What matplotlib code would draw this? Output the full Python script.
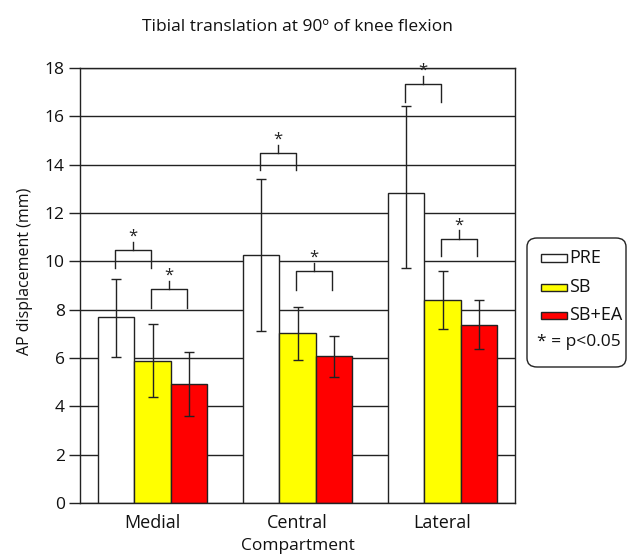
import matplotlib
matplotlib.use("Agg")
import matplotlib.pyplot as plt
from matplotlib.patches import Rectangle, FancyBboxPatch
import numpy as np

plt.rcParams['font.family'] = ['Open Sans', 'DejaVu Sans']

categories = ["Medial", "Central", "Lateral"]
series = ["PRE", "SB", "SB+EA"]
colors = ["white", "#ffff00", "#ff0000"]
pre = [7.7, 10.25, 12.83]
sb = [5.88, 7.03, 8.38]
sbea = [4.91, 6.08, 7.35]
pre_lo = [1.65, 3.15, 3.1]
pre_hi = [1.57, 3.15, 3.6]
sb_lo = [1.48, 1.1, 1.16]
sb_hi = [1.51, 1.1, 1.24]
sbea_lo = [1.32, 0.86, 0.97]
sbea_hi = [1.35, 0.83, 1.04]
# significance brackets: (category, left series idx, right series idx, leg bottom, top)
brackets = [(0, 0, 1, 9.74, 10.46), (0, 1, 2, 8.08, 8.85),
            (1, 0, 1, 13.79, 14.49), (1, 1, 2, 8.83, 9.59),
            (2, 0, 1, 16.6, 17.34), (2, 1, 2, 10.21, 10.94)]
sig_note = "* = p<0.05"

W, H = 629, 556
fig = plt.figure(figsize=(W / 100, H / 100), dpi=100)
ax = fig.add_axes([80 / W, 1 - 503 / H, 435 / W, 435 / H])
ink = "#222222"
txt = "#111111"

x = np.arange(len(categories))
w = 0.25
vals = [pre, sb, sbea]
los = [pre_lo, sb_lo, sbea_lo]
his = [pre_hi, sb_hi, sbea_hi]
for i, (v, c, lab) in enumerate(zip(vals, colors, series)):
    xs = x + (i - 1) * w
    ax.bar(xs, v, width=w, color=c, edgecolor=ink, linewidth=1.0,
           label=lab, zorder=2)
    ax.errorbar(xs, v, yerr=[los[i], his[i]], fmt="none", ecolor=ink,
                elinewidth=1.0, capsize=3.5, capthick=1.0, zorder=3)

for cat, a, b, lo, hi in brackets:
    xa = cat + (a - 1) * w - 0.01
    xb = cat + (b - 1) * w - 0.01
    xm = (xa + xb) / 2
    ax.plot([xa, xa, xb, xb], [lo, hi, hi, lo], color=ink, lw=1.0,
            zorder=4, clip_on=False)
    ax.plot([xm, xm], [hi, hi + 0.34], color=ink, lw=1.0, zorder=4,
            clip_on=False)
    ax.text(xm, hi + 0.22, "*", ha="center", va="bottom", fontsize=12,
            color=ink, zorder=4, clip_on=False)

ax.set_xlim(-0.5, 2.5)
ax.set_ylim(0, 18)
ax.set_yticks(np.arange(0, 19, 2))
ax.yaxis.grid(True, color=ink, linewidth=1.0)
ax.set_axisbelow(True)
ax.set_xticks(x)
ax.set_xticklabels(categories, fontsize=13)
ax.tick_params(axis="x", length=0, pad=8, colors=txt)
ax.tick_params(axis="y", direction="out", length=8, width=1.0,
               labelsize=12.5, color=ink, labelcolor=txt, pad=3)
for s in ax.spines.values():
    s.set_color(ink)
    s.set_linewidth(1.0)
ax.set_ylabel("AP displacement (mm)", fontsize=11.5, color=txt)
ax.yaxis.set_label_coords(-0.108, 0.533)
ax.set_xlabel("Compartment", fontsize=12.5, labelpad=4, color=txt)
fig.text(297 / W, 1 - 27 / H, "Tibial translation at 90º of knee flexion",
         fontsize=12.5, ha="center", va="center", color=txt)

# legend drawn in figure pixel coordinates
def fx(px):
    return px / W

def fy(py):
    return 1 - py / H

box = FancyBboxPatch((fx(527), fy(367)), fx(626) - fx(527), fy(238) - fy(367),
                     boxstyle="round,pad=0,rounding_size=0.016",
                     transform=fig.transFigure, facecolor="white",
                     edgecolor=ink, linewidth=1.0)
fig.patches.append(box)
rows = [258, 287, 315]
for lab, c, ry in zip(series, colors, rows):
    fig.patches.append(Rectangle((fx(541), fy(ry + 3.5)), fx(567) - fx(541),
                                 fy(ry - 3.5) - fy(ry + 3.5),
                                 transform=fig.transFigure, facecolor=c,
                                 edgecolor=ink, linewidth=1.0))
    fig.text(fx(569), fy(ry), lab, fontsize=13, ha="left", va="center",
             color=txt)
fig.text(fx(578.5), fy(342), sig_note, fontsize=12.5, ha="center", va="center",
         color=txt)

fig.savefig("out.png", dpi=100)
